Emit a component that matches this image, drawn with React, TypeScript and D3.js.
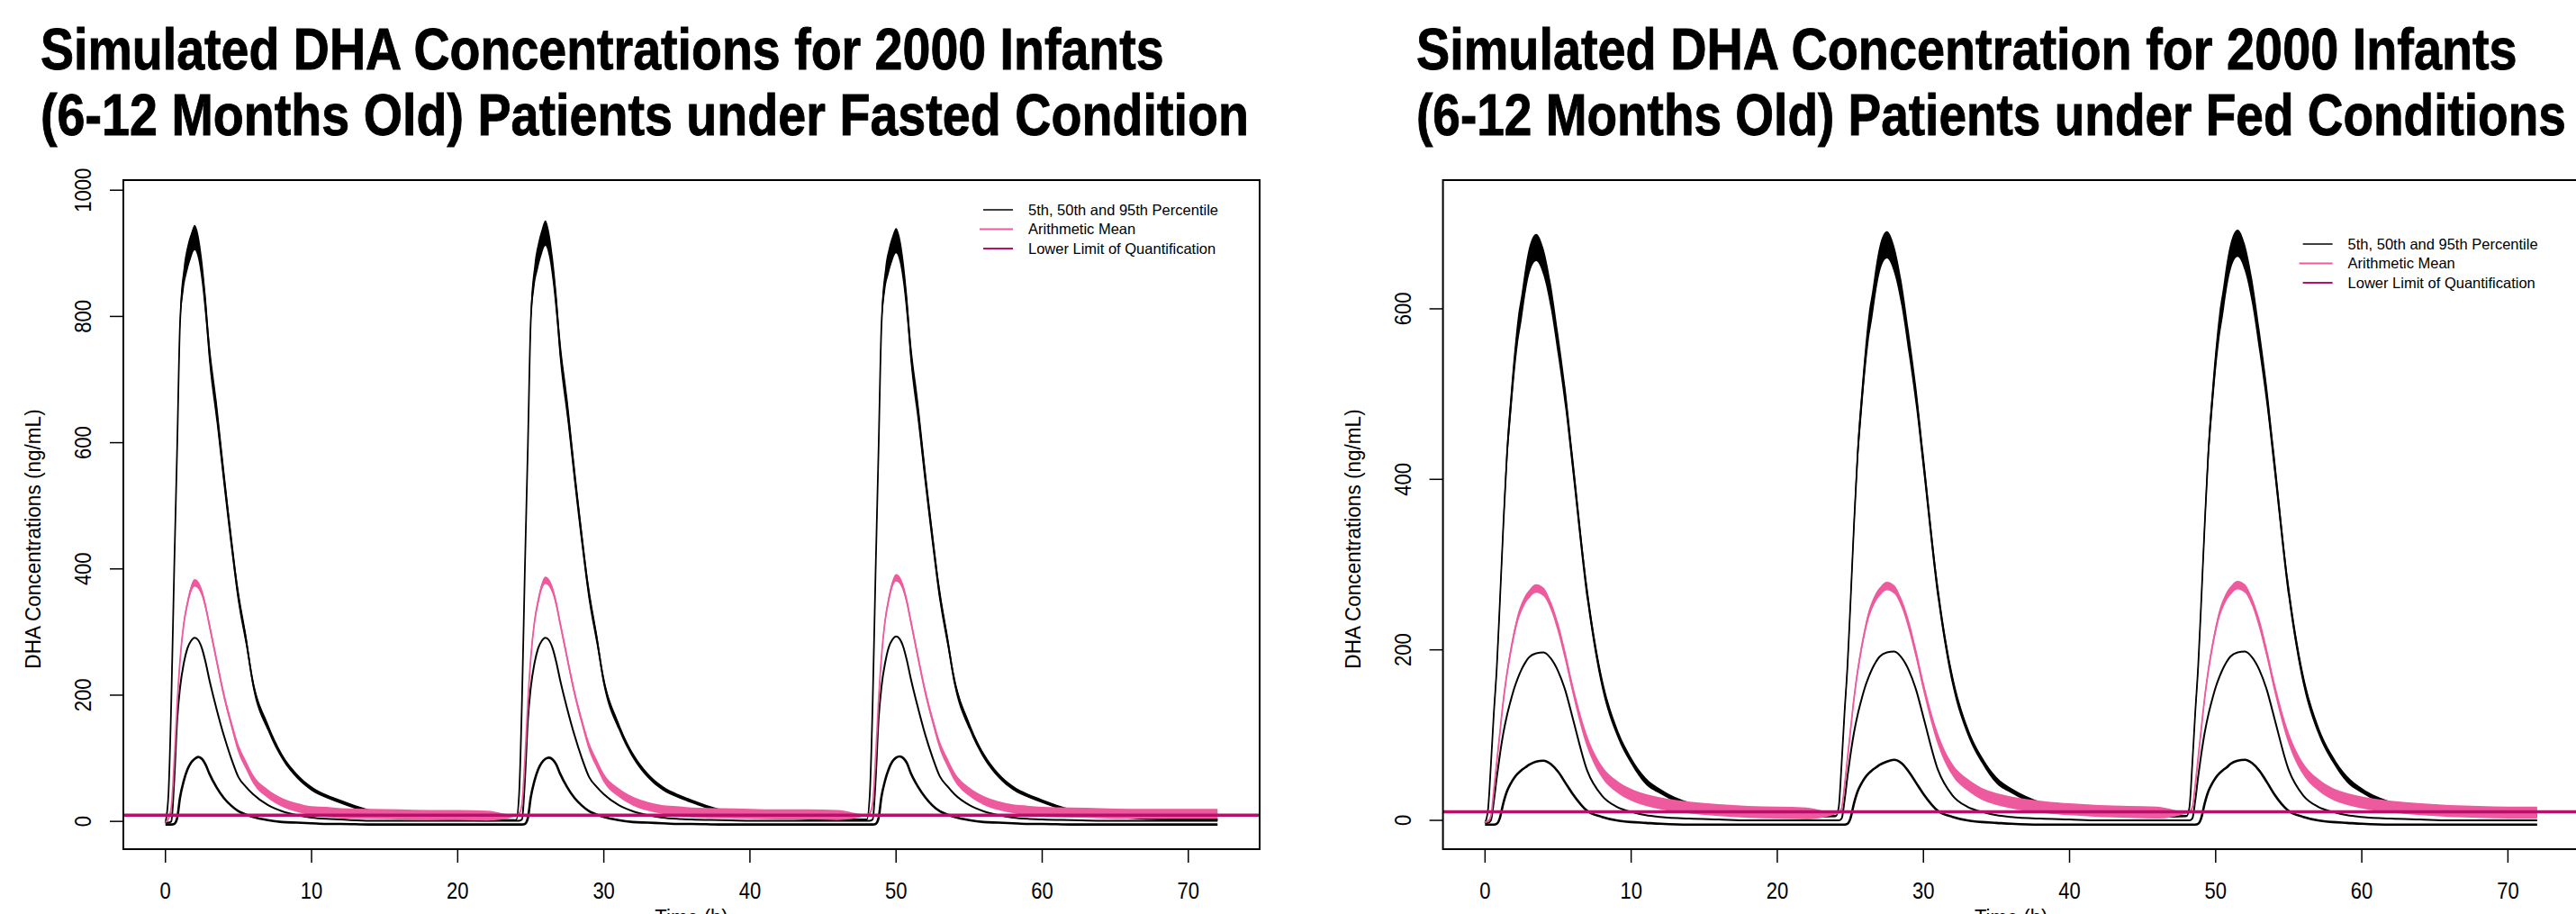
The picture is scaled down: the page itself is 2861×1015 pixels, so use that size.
import React, { useMemo } from "react";
import * as d3 from "d3";

// sampling times (h), three doses at 0, 24 and 48 h
const timeHours = [
  0, 0.2, 0.4, 0.6, 0.8, 1, 1.25, 1.5, 1.75, 2, 2.25, 2.5, 2.75, 3, 3.5, 4, 4.5, 5, 5.5, 6, 7, 8, 9, 10, 11, 12, 14, 16, 18, 20, 22,
  24, 24.2, 24.4, 24.6, 24.8, 25, 25.25, 25.5, 25.75, 26, 26.25, 26.5, 26.75, 27, 27.5, 28, 28.5, 29, 29.5, 30, 31, 32, 33, 34, 35, 36, 38, 40, 42, 44, 46,
  48, 48.2, 48.4, 48.6, 48.8, 49, 49.25, 49.5, 49.75, 50, 50.25, 50.5, 50.75, 51, 51.5, 52, 52.5, 53, 53.5, 54, 55, 56, 57, 58, 59, 60, 62, 64, 66, 68, 70, 72,
];

// fasted panel
const fastedP95 = [
  -2, 40, 190, 400, 590, 790, 860, 892, 912, 925, 910, 872, 815, 745, 650, 545, 445, 355, 290, 218, 150, 102, 72, 52, 40, 31, 16, 9, 5, 3, 2,
  2, 42, 192, 402, 592, 792, 864, 896, 918, 932, 915, 876, 820, 750, 655, 548, 448, 358, 292, 222, 152, 104, 73, 53, 41, 32, 17, 10, 6, 4, 3,
  3, 42, 190, 398, 588, 785, 858, 888, 908, 920, 906, 870, 815, 745, 650, 545, 447, 357, 290, 222, 152, 104, 73, 53, 41, 32, 17, 10, 6, 4, 3, 3,
];
const fastedP95Spread = [
  1, 2, 4, 8, 12, 16, 18, 20, 20, 20, 20, 20, 20, 19, 18, 16, 14, 12, 10, 8, 6, 4.5, 4, 3.5, 3, 3, 2.5, 2, 2, 2, 2,
  1, 2, 4, 8, 12, 16, 18, 20, 20, 20, 20, 20, 20, 19, 18, 16, 14, 12, 10, 8, 6, 4.5, 4, 3.5, 3, 3, 2.5, 2, 2, 2, 2,
  1, 2, 4, 8, 12, 16, 18, 20, 20, 20, 20, 20, 20, 19, 18, 16, 14, 12, 10, 8, 6, 4.5, 4, 3.5, 3, 3, 2.5, 2, 2, 2, 2, 2,
];
const fastedMean = [
  -1, 4, 22, 95, 185, 255, 312, 345, 368, 378, 374, 362, 340, 312, 255, 200, 155, 115, 90, 67, 44, 30, 22, 17, 15, 13, 12, 11, 10, 10, 9,
  9, 12, 28, 98, 188, 258, 315, 348, 372, 382, 378, 366, 344, 315, 258, 203, 158, 118, 92, 69, 46, 32, 24, 19, 16, 14, 13, 12, 11, 11, 10,
  10, 13, 29, 100, 190, 260, 318, 352, 376, 386, 382, 369, 347, 318, 260, 205, 160, 120, 94, 71, 47, 33, 25, 20, 17, 15, 14, 13, 12, 12, 12, 12,
];
const fastedMeanSpread = [
  1, 2, 3, 5, 6, 6, 6, 6, 6, 6, 6, 6, 6, 6, 6, 6, 6, 7, 7, 7, 7, 7, 7, 7, 8, 8, 8, 8, 8, 8, 8,
  1, 2, 3, 5, 6, 6, 6, 6, 6, 6, 6, 6, 6, 6, 6, 6, 6, 7, 7, 7, 7, 7, 7, 7, 8, 8, 8, 8, 8, 8, 8,
  1, 2, 3, 5, 6, 6, 6, 6, 6, 6, 6, 6, 6, 6, 6, 6, 6, 7, 7, 7, 7, 7, 7, 7, 8, 8, 8, 8, 8, 8, 8, 8,
];
const fastedP50 = [
  -2, -2, 0, 65, 160, 212, 250, 274, 286, 291, 287, 274, 252, 225, 178, 136, 100, 70, 55, 43, 26, 16, 10, 6, 4, 3, 1, 1, 1, 1, 1,
  1, 1, 3, 66, 160, 212, 250, 274, 286, 291, 287, 274, 252, 225, 178, 136, 100, 70, 55, 43, 26, 16, 10, 6, 4, 3, 2, 1, 1, 1, 1,
  1, 1, 3, 66, 161, 213, 251, 276, 288, 293, 289, 276, 254, 227, 180, 137, 101, 71, 56, 43, 26, 16, 10, 6, 4, 3, 2, 1, 1, 1, 1, 1,
];
const fastedP5 = [
  -5, -5, -5, -4, 5, 38, 64, 82, 93, 99, 102, 99, 90, 76, 54, 37, 25, 16, 11, 7, 2, -1, -2, -3, -4, -4, -5, -5, -5, -5, -5,
  -5, -5, -5, -4, 5, 38, 64, 82, 93, 99, 101, 98, 90, 76, 54, 37, 25, 16, 11, 7, 2, -1, -2, -3, -4, -4, -5, -5, -5, -5, -5,
  -5, -5, -5, -4, 5, 39, 65, 83, 95, 101, 103, 100, 92, 77, 55, 38, 25, 16, 11, 7, 2, -1, -2, -3, -4, -4, -5, -5, -5, -5, -5, -5,
];

// fed panel
const fedP95 = [
  -3, 12, 65, 125, 178, 250, 345, 429, 485, 535, 575, 602, 632, 655, 672, 655, 615, 558, 495, 418, 265, 162, 105, 70, 46, 34, 18, 12, 8, 6, 5,
  5, 15, 66, 126, 180, 252, 347, 430, 487, 537, 578, 605, 635, 658, 675, 658, 618, 560, 497, 420, 267, 164, 106, 71, 47, 35, 19, 12, 8, 6, 5,
  5, 15, 66, 126, 180, 252, 347, 432, 490, 540, 580, 608, 638, 660, 677, 660, 620, 562, 498, 421, 268, 165, 107, 72, 48, 35, 19, 13, 9, 7, 6, 6,
];
const fedP95Spread = [
  1, 2, 4, 6, 8, 10, 12, 14, 15, 15, 16, 16, 16, 16, 16, 16, 15, 14, 13, 12, 9, 7, 5, 4, 4, 3, 3, 2.5, 2, 2, 2,
  1, 2, 4, 6, 8, 10, 12, 14, 15, 15, 16, 16, 16, 16, 16, 16, 15, 14, 13, 12, 9, 7, 5, 4, 4, 3, 3, 2.5, 2, 2, 2,
  1, 2, 4, 6, 8, 10, 12, 14, 15, 15, 16, 16, 16, 16, 16, 16, 15, 14, 13, 12, 9, 7, 5, 4, 4, 3, 3, 2.5, 2, 2, 2, 2,
];
const fedMean = [
  -2, -1, 5, 35, 68, 100, 140, 172, 198, 220, 238, 250, 259, 265, 272, 268, 252, 226, 192, 154, 92, 57, 40, 30, 24, 20, 15, 12, 10, 9, 8,
  8, 9, 14, 40, 72, 104, 143, 175, 201, 223, 241, 253, 262, 268, 275, 271, 255, 229, 195, 157, 95, 59, 42, 31, 25, 21, 16, 13, 11, 10, 9,
  9, 10, 15, 41, 73, 105, 144, 176, 202, 224, 242, 254, 263, 269, 276, 272, 256, 230, 196, 158, 96, 60, 42, 31, 25, 21, 16, 13, 11, 10, 9, 9,
];
const fedMeanSpread = [
  1, 1, 2, 4, 5, 5, 5, 5, 5, 5, 5, 5, 5, 5, 5, 5, 5, 6, 6, 6, 7, 7, 7, 7, 7, 7, 7, 7, 7, 7, 7,
  1, 1, 2, 4, 5, 5, 5, 5, 5, 5, 5, 5, 5, 5, 5, 5, 5, 6, 6, 6, 7, 7, 7, 7, 7, 7, 7, 7, 7, 7, 7,
  1, 1, 2, 4, 5, 5, 5, 5, 5, 5, 5, 5, 5, 5, 5, 5, 5, 6, 6, 6, 7, 7, 7, 7, 7, 7, 7, 7, 7, 7, 7, 7,
];
const fedP50 = [
  -3, -3, 0, 22, 50, 75, 102, 123, 140, 155, 167, 177, 185, 191, 196, 197, 190, 175, 152, 120, 58, 29, 16, 10, 6, 4, 2, 1, 0, 0, 0,
  0, 0, 2, 23, 51, 76, 103, 124, 141, 156, 168, 178, 186, 192, 197, 198, 191, 176, 153, 121, 59, 29, 16, 10, 6, 4, 2, 1, 0, 0, 0,
  0, 0, 2, 23, 51, 76, 103, 124, 141, 156, 168, 178, 186, 192, 197, 198, 191, 176, 153, 121, 59, 29, 16, 10, 6, 4, 2, 1, 0, 0, 0, 0,
];
const fedP5 = [
  -5, -5, -5, -5, -4, 2, 20, 34, 43, 50, 55, 59, 62, 65, 69, 70, 66, 57, 44, 31, 11, 4, 0, -2, -3, -4, -5, -5, -5, -5, -5,
  -5, -5, -5, -5, -4, 2, 20, 34, 43, 50, 55, 59, 62, 65, 69, 71, 67, 57, 44, 31, 11, 4, 0, -2, -3, -4, -5, -5, -5, -5, -5,
  -5, -5, -5, -5, -4, 2, 20, 34, 43, 50, 55, 59, 62, 66, 70, 71, 67, 58, 45, 31, 11, 4, 0, -2, -3, -4, -5, -5, -5, -5, -5, -5,
];

const lloq = 10;
const xTicks = [0, 10, 20, 30, 40, 50, 60, 70];
const fastedYTicks = [0, 200, 400, 600, 800, 1000];
const fedYTicks = [0, 200, 400, 600];
const legendLabels = ["5th, 50th and 95th Percentile", "Arithmetic Mean", "Lower Limit of Quantification"];
const fastedTitle = ["Simulated DHA Concentrations for 2000 Infants", "(6-12 Months Old) Patients under Fasted Condition"];
const fedTitle = ["Simulated DHA Concentration for 2000 Infants", "(6-12 Months Old) Patients under Fed Conditions"];

const W = 2861;
const H = 1015;
const PINK = "#ee5a9e";
const LLOQ_COL = "#b8106a";
const sans = "'Liberation Sans', Arial, sans-serif";
const TITLE_FONT = "bold 64px 'Liberation Sans'";

// squeeze a title line to the width it has in the original
function measure(text: string, font: string) {
  const ctx = document.createElement("canvas").getContext("2d");
  if (!ctx) return text.length * 30;
  ctx.font = font;
  return ctx.measureText(text).width;
}

function Panel({ id, x0, title, titleLens, titleX, yDomain, yTicks, p5, p50, p95, p95Spread, mean, meanSpread, legendY }) {
  const top = 200;
  const bottom = 943;
  const x = d3.scaleLinear().domain([-2.88, 74.88]).range([x0, x0 + 1262]);
  const y = d3.scaleLinear().domain(yDomain).range([bottom, top]);
  const right = x0 + 1262;

  const line = d3.line<number>().x((_, i) => x(timeHours[i])).y((v) => y(v)).curve(d3.curveMonotoneX);
  const band = (vals: number[], sp: number[]) =>
    d3.area<number>()
      .x((_, i) => x(timeHours[i]))
      .y0((v, i) => y(v - sp[i]))
      .y1((v, i) => y(v + sp[i]))
      .curve(d3.curveMonotoneX)(vals);

  const scales = useMemo(() => title.map((t, i) => titleLens[i] / measure(t, TITLE_FONT)), [title, titleLens]);

  const clip = `clip-${id}`;
  const midY = (top + bottom) / 2 + 27;

  return (
    <g>
      {title.map((t, i) => (
        <text key={i} transform={`translate(${titleX},${77 + i * 73}) scale(${scales[i]},1)`}
          fontFamily={sans} fontWeight="bold" fontSize={64} stroke="#000" strokeWidth={0.9}>{t}</text>
      ))}
      <defs>
        <clipPath id={clip}>
          <rect x={x0} y={top} width={1262} height={bottom - top} />
        </clipPath>
      </defs>
      <g clipPath={`url(#${clip})`}>
        <path d={line(p5)} fill="none" stroke="#000" strokeWidth={2.6} />
        <path d={line(p50)} fill="none" stroke="#000" strokeWidth={2} />
        <path d={band(p95, p95Spread)} fill="#000" />
        <path d={line(p95)} fill="none" stroke="#000" strokeWidth={1.8} />
        <path d={band(mean, meanSpread)} fill={PINK} />
        <path d={line(mean)} fill="none" stroke={PINK} strokeWidth={1.8} />
        <line x1={x0} x2={right} y1={y(lloq)} y2={y(lloq)} stroke={LLOQ_COL} strokeWidth={3.5} />
      </g>
      <rect x={x0} y={top} width={1262} height={bottom - top} fill="none" stroke="#000" strokeWidth={2} />

      {xTicks.map((t) => (
        <g key={t}>
          <line x1={x(t)} x2={x(t)} y1={bottom} y2={bottom + 15} stroke="#000" strokeWidth={1.5} />
          <text transform={`translate(${x(t)},998) scale(0.88,1)`} textAnchor="middle" fontFamily={sans} fontSize={25}>{t}</text>
        </g>
      ))}
      <text transform={`translate(${x(36)},1027) scale(0.92,1)`} textAnchor="middle" fontFamily={sans} fontSize={24}>Time (h)</text>

      {yTicks.map((t) => (
        <g key={t}>
          <line x1={x0 - 15} x2={x0} y1={y(t)} y2={y(t)} stroke="#000" strokeWidth={1.5} />
          <text transform={`translate(${x0 - 44},${y(t)}) rotate(-90) scale(0.88,1)`} textAnchor="middle"
            dominantBaseline="central" fontFamily={sans} fontSize={25}>{t}</text>
        </g>
      ))}
      <text transform={`translate(${x0 - 100},${midY}) rotate(-90) scale(0.94,1)`} textAnchor="middle"
        dominantBaseline="central" fontFamily={sans} fontSize={24}>DHA Concentrations (ng/mL)</text>

      {legendLabels.map((lab, i) => {
        const ly = legendY + i * 21.5;
        const col = i === 0 ? "#000" : i === 1 ? PINK : LLOQ_COL;
        return (
          <g key={lab}>
            <line x1={right - (i === 1 ? 311 : 307)} x2={right - 274} y1={ly} y2={ly} stroke={col} strokeWidth={i === 0 ? 1.5 : 2.2} />
            <text x={right - 257} y={ly} dy="0.36em" fontFamily={sans} fontSize={16.5}>{lab}</text>
          </g>
        );
      })}
    </g>
  );
}

export default function App() {
  return (
    <svg width={W} height={H} viewBox={`0 0 ${W} ${H}`}
      style={{ position: "absolute", left: 0, top: 0, background: "#fff", display: "block" }}>
      <rect width={W} height={H} fill="#fff" />
      <Panel id="fasted" x0={137} title={fastedTitle} titleLens={[1250, 1342]} titleX={45}
        yDomain={[-44, 1016]} yTicks={fastedYTicks} p5={fastedP5} p50={fastedP50} p95={fastedP95}
        p95Spread={fastedP95Spread} mean={fastedMean} meanSpread={fastedMeanSpread} legendY={233} />
      <Panel id="fed" x0={1602.6} title={fedTitle} titleLens={[1225, 1277]} titleX={1573}
        yDomain={[-33.8, 751]} yTicks={fedYTicks} p5={fedP5} p50={fedP50} p95={fedP95}
        p95Spread={fedP95Spread} mean={fedMean} meanSpread={fedMeanSpread} legendY={271} />
    </svg>
  );
}
